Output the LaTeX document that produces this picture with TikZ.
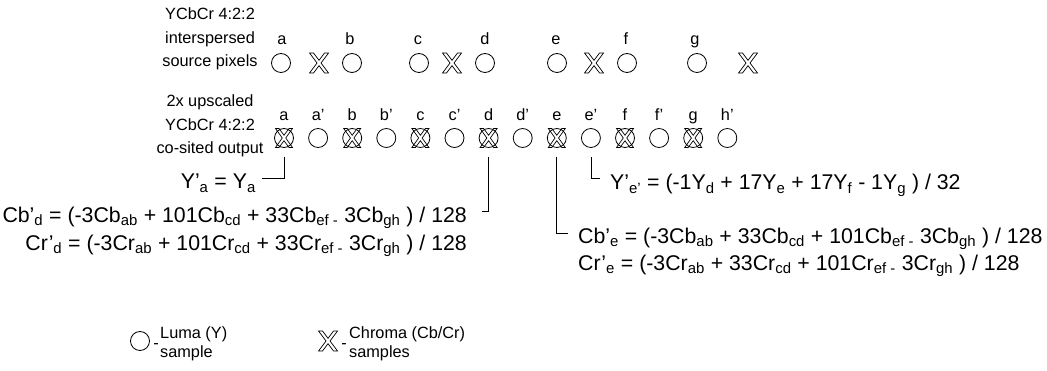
\documentclass[tikz,border=0pt]{standalone}
\usepackage{fontspec}
\setmainfont{Liberation Sans}
\begin{document}
\begin{tikzpicture}[x=1pt,y=1pt,
  every node/.style={font=\fontsize{16.3}{23.5}\selectfont, inner sep=0pt},
  luma/.style={shape=circle, draw, line width=0.8pt, minimum size=19pt},
  chroma/.style={shape=rectangle, fill=white, minimum size=23pt,
    path picture={\draw[line width=0.7pt, shift={(path picture bounding box.center)}]
      (-9.5pt,10pt) -- (-5.5pt,10pt) -- (0pt,2.67pt) -- (5.5pt,10pt) -- (9.5pt,10pt) -- (2pt,0pt)
      -- (9.5pt,-10pt) -- (5.5pt,-10pt) -- (0pt,-2.67pt) -- (-5.5pt,-10pt) -- (-9.5pt,-10pt) -- (-2pt,0pt) -- cycle;}},
  both/.style={shape=rectangle, fill=white, minimum size=23pt,
    path picture={\draw[line width=0.8pt] (path picture bounding box.center) circle[radius=9.5pt];
      \draw[line width=0.7pt, shift={(path picture bounding box.center)}]
      (-8.5pt,9.5pt) -- (-5pt,9.5pt) -- (0pt,2.75pt) -- (5pt,9.5pt) -- (8.5pt,9.5pt) -- (1.75pt,0pt)
      -- (8.5pt,-9.5pt) -- (5pt,-9.5pt) -- (0pt,-2.75pt) -- (-5pt,-9.5pt) -- (-8.5pt,-9.5pt) -- (-1.75pt,0pt) -- cycle;}},
  lbl/.style={anchor=base},
  formula/.style={font=\fontsize{21.3}{25}\selectfont},
  conn/.style={draw, line width=0.8pt},
  legtext/.style={align=left, anchor=west, font=\fontsize{16.3}{18.5}\selectfont}
]
\useasboundingbox (0,0) rectangle (1047,370);

% left captions
\node[align=center] (t1) at (210,331) {YCbCr 4:2:2\\interspersed\\source pixels};
\node[align=center] (t2) at (210,244) {2x upscaled\\YCbCr 4:2:2\\co-sited output};

% row 1 symbols
\node[luma] (a1) at (281,307) {};
\node[chroma] (x1) at (319,307) {};
\node[luma] (b1) at (352,307) {};
\node[luma] (c1) at (419,307) {};
\node[chroma] (x2) at (452,307) {};
\node[luma] (d1) at (485,307) {};
\node[luma] (e1) at (557,307) {};
\node[chroma] (x3) at (594,307) {};
\node[luma] (f1) at (627,307) {};
\node[luma] (g1) at (697,307) {};
\node[chroma] (x4) at (748,307) {};

% row 1 labels
\node[lbl] (la1) at (282,325) {a};
\node[lbl] (lb1) at (350,325) {b};
\node[lbl] (lc1) at (418,325) {c};
\node[lbl] (ld1) at (485,325) {d};
\node[lbl] (le1) at (556,325) {e};
\node[lbl] (lf1) at (626,325) {f};
\node[lbl] (lg1) at (695,325) {g};

% row 2 symbols
\node[both] (a2) at (284,232) {};
\node[luma] (ap2) at (318.1,232) {};
\node[both] (b2) at (352.2,232) {};
\node[luma] (bp2) at (386.3,232) {};
\node[both] (c2) at (420.4,232) {};
\node[luma] (cp2) at (454.5,232) {};
\node[both] (d2) at (488.6,232) {};
\node[luma] (dp2) at (522.7,232) {};
\node[both] (e2) at (556.8,232) {};
\node[luma] (ep2) at (590.9,232) {};
\node[both] (f2) at (625,232) {};
\node[luma] (fp2) at (659.1,232) {};
\node[both] (g2) at (693.2,232) {};
\node[luma] (hp2) at (727.3,232) {};

% row 2 labels
\node[lbl] (la2) at (284,249) {a};
\node[lbl] (lap2) at (318.1,249) {a’};
\node[lbl] (lb2) at (352.2,249) {b};
\node[lbl] (lbp2) at (386.3,249) {b’};
\node[lbl] (lc2) at (420.4,249) {c};
\node[lbl] (lcp2) at (454.5,249) {c’};
\node[lbl] (ld2) at (488.6,249) {d};
\node[lbl] (ldp2) at (522.7,249) {d’};
\node[lbl] (le2) at (556.8,249) {e};
\node[lbl] (lep2) at (590.9,249) {e’};
\node[lbl] (lf2) at (625,249) {f};
\node[lbl] (lfp2) at (659.1,249) {f’};
\node[lbl] (lg2) at (693.2,249) {g};
\node[lbl] (lhp2) at (727.3,249) {h’};

% formulas
\node[formula, anchor=base east] (ya) at (256,181) {Y’\textsubscript{a} = Y\textsubscript{a}};
\node[formula, anchor=base east] (cbd) at (467,148) {Cb’\textsubscript{d} = (-3Cb\textsubscript{ab} + 101Cb\textsubscript{cd} + 33Cb\textsubscript{ef -} 3Cb\textsubscript{gh} ) / 128};
\node[formula, anchor=base east] (crd) at (467,120) {Cr’\textsubscript{d} = (-3Cr\textsubscript{ab} + 101Cr\textsubscript{cd} + 33Cr\textsubscript{ef -} 3Cr\textsubscript{gh} ) / 128};
\node[formula, anchor=base west] (ype) at (610,180) {Y’\textsubscript{e’} = (-1Y\textsubscript{d} + 17Y\textsubscript{e} + 17Y\textsubscript{f} - 1Y\textsubscript{g} ) / 32};
\node[formula, anchor=base west] (cbe) at (578,127) {Cb’\textsubscript{e} = (-3Cb\textsubscript{ab} + 33Cb\textsubscript{cd} + 101Cb\textsubscript{ef -} 3Cb\textsubscript{gh} ) / 128};
\node[formula, anchor=base west] (cre) at (578,100) {Cr’\textsubscript{e} = (-3Cr\textsubscript{ab} + 33Cr\textsubscript{cd} + 101Cr\textsubscript{ef -} 3Cr\textsubscript{gh} ) / 128};

% connectors
\coordinate (aend) at (262,192);
\coordinate (dend) at (482,159);
\coordinate (eend) at (568,137);
\coordinate (epend) at (600,192);
\draw[conn, shorten <=7pt] (a2.south) |- (aend);
\draw[conn, shorten <=7pt] (d2.south) |- (dend);
\draw[conn, shorten <=7pt] (e2.south) |- (eend);
\draw[conn, shorten <=9pt] (ep2.south) |- (epend);

% legend
\node[luma] (lgc) at (140,29) {};
\node[anchor=base] (lgcd) at (156,22) {-};
\node[legtext] (lgct) at (160,26) {Luma (Y)\\sample};
\node[chroma] (lgx) at (328,29) {};
\node[anchor=base] (lgxd) at (344,22) {-};
\node[legtext] (lgxt) at (349,26) {Chroma (Cb/Cr)\\samples};
\end{tikzpicture}
\end{document}
